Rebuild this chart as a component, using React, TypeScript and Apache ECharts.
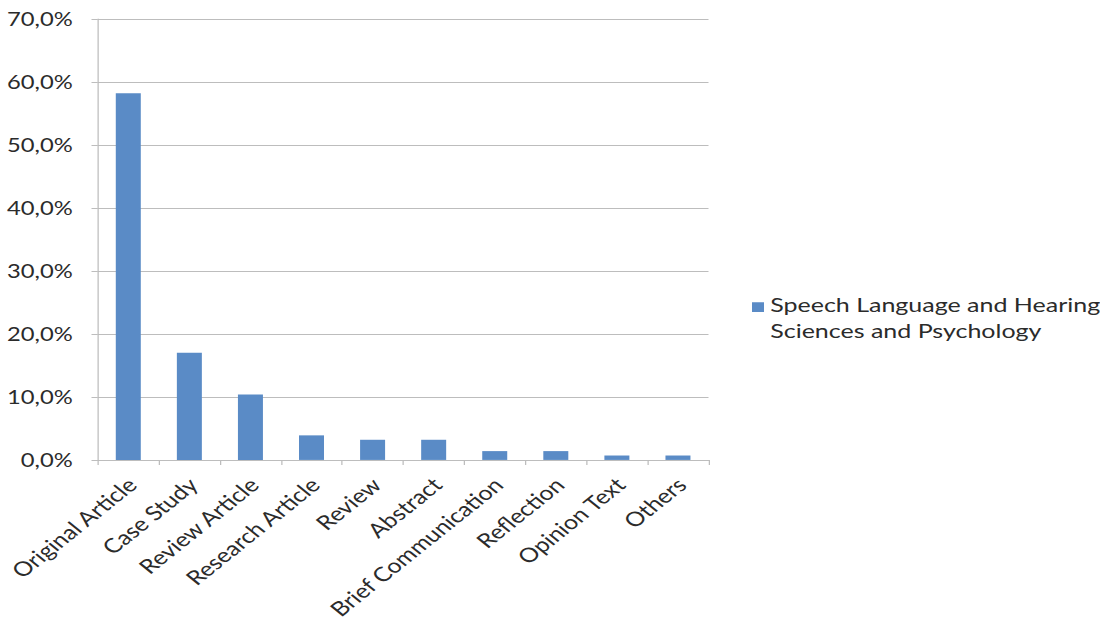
import React, { useEffect, useRef } from "react";
import * as echarts from "echarts";

// Share of publication types, in percent
const categories = [
  "Original Article",
  "Case Study",
  "Review Article",
  "Research Article",
  "Review",
  "Abstract",
  "Brief Communication",
  "Reflection",
  "Opinion Text",
  "Others",
];
const shares = [58.2, 17.0, 10.4, 3.9, 3.2, 3.2, 1.4, 1.4, 0.7, 0.7];
const seriesName = "Speech Language and Hearing\nSciences and Psychology";
const yMin = 0;
const yMax = 70;
const yStep = 10;

// The drawing is laid out on a narrower canvas and widened horizontally.
const STRETCH = 1.25;
const BASE_W = 1100 / STRETCH;
const BASE_H = 622;

const FONT = "Lato, 'Open Sans', sans-serif";
const TEXT = "#2b2b2b";
const GRID = "#bdbdbd";
const BAR = "#5a8bc6";

export default function App() {
  const ref = useRef<HTMLDivElement>(null);

  useEffect(() => {
    if (!ref.current) return;
    const chart = echarts.init(ref.current, undefined, { renderer: "svg" });
    chart.setOption({
      animation: false,
      backgroundColor: "#ffffff",
      textStyle: { fontFamily: FONT },
      grid: {
        left: 78.2,
        top: 19,
        width: 488.6,
        height: 442.7,
        containLabel: false,
      },
      legend: {
        left: 601.6,
        top: 291,
        padding: 0,
        orient: "vertical",
        // square sits beside the first line of the two-line name
        icon: "path://M0,0h10v10h-10zM0,31.6h0.01v0.01h-0.01z",
        itemWidth: 9.6,
        itemHeight: 38,
        itemGap: 6.4,
        textStyle: {
          fontFamily: FONT,
          fontSize: 20,
          lineHeight: 26.5,
          color: TEXT,
        },
        data: [seriesName],
      },
      xAxis: {
        type: "category",
        data: categories,
        boundaryGap: true,
        axisLine: { show: true, lineStyle: { color: GRID, width: 1 } },
        axisTick: { show: true, length: 5, lineStyle: { color: GRID } },
        axisLabel: {
          rotate: 45,
          interval: 0,
          margin: 10,
          padding: [0, 6, 0, 0],
          align: "right",
          verticalAlign: "top",
          fontFamily: FONT,
          fontSize: 20,
          color: TEXT,
        },
        splitLine: { show: false },
      },
      yAxis: {
        type: "value",
        min: yMin,
        max: yMax,
        interval: yStep,
        axisLine: { show: true, lineStyle: { color: GRID, width: 1 } },
        axisTick: { show: true, length: 5, lineStyle: { color: GRID } },
        axisLabel: {
          margin: 20,
          fontFamily: FONT,
          fontSize: 19,
          color: TEXT,
          formatter: (v: number) => v.toFixed(1).replace(".", ",") + "%",
        },
        splitLine: { show: true, lineStyle: { color: GRID, width: 1 } },
      },
      series: [
        {
          name: seriesName,
          type: "bar",
          data: shares,
          barWidth: 20,
          itemStyle: { color: BAR },
        },
      ],
    });
    return () => chart.dispose();
  }, []);

  return (
    <div
      style={{
        position: "fixed",
        left: 0,
        top: 0,
        width: 1100,
        height: BASE_H,
        overflow: "hidden",
        background: "#ffffff",
      }}
    >
      <div
        ref={ref}
        style={{
          width: BASE_W,
          height: BASE_H,
          transform: `scaleX(${STRETCH})`,
          transformOrigin: "0 0",
        }}
      />
    </div>
  );
}
